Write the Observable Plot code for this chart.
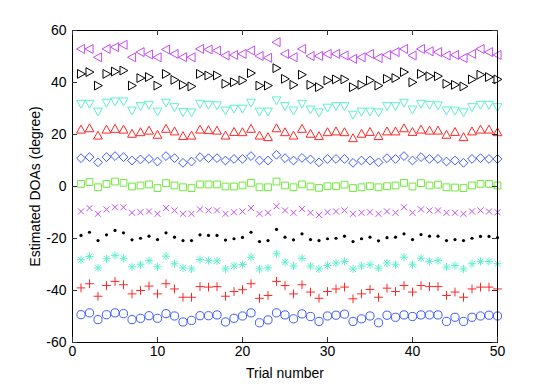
<!DOCTYPE html>
<html>
<head>
<meta charset="utf-8">
<script src="https://cdn.jsdelivr.net/npm/d3@7"></script>
<script src="https://cdn.jsdelivr.net/npm/@observablehq/plot@0.6"></script>
<style>
  html, body { margin: 0; padding: 0; background: #fff; }
  #chart { width: 548px; height: 386px; }
</style>
</head>
<body>
<div id="chart"></div>
<script>
// ---- data ----
const trials = d3.range(1, 51);
const xTicks = [0, 10, 20, 30, 40, 50];
const yTicks = [-60, -40, -20, 0, 20, 40, 60];

const doa50  = [52.9,52.9,49.7,52.9,53.6,54.5,49.7,51.7,50.8,49.7,52.7,51.0,49.7,49.7,52.9,52.7,52.3,50.4,50.6,51.0,52.3,50.2,49.5,55.5,51.0,49.7,52.9,50.2,50.2,51.0,51.0,50.4,49.1,49.7,51.0,49.4,50.6,51.7,52.9,50.4,52.9,52.0,51.7,50.4,50.6,49.4,51.0,52.9,51.7,50.6];
const doa40  = [43.3,44.0,38.8,43.3,44.2,44.6,38.8,41.7,42.1,38.8,43.3,41.0,39.1,38.5,43.3,42.7,42.7,39.5,40.1,40.8,43.6,38.8,38.8,45.5,41.4,39.1,43.0,39.1,38.2,40.8,41.2,41.2,38.2,39.1,40.8,38.8,41.4,41.7,44.0,40.1,43.3,42.4,42.4,39.5,39.1,38.5,41.2,43.0,42.1,41.2];
const doa30  = [31.8,31.8,28.8,32.2,32.7,32.7,29.2,30.9,31.4,28.8,32.2,30.5,28.6,28.5,31.8,31.4,31.2,29.2,29.9,29.9,32.2,28.8,28.8,33.1,30.9,29.2,31.8,29.6,28.5,30.3,30.9,30.9,27.6,28.8,28.8,28.5,30.9,30.9,32.2,29.6,31.8,31.4,31.2,29.2,29.2,28.5,30.5,31.4,31.4,30.5];
const doa20  = [21.9,22.4,19.6,21.9,22.2,21.9,20.3,20.9,21.5,19.9,22.2,21.2,19.4,19.6,21.9,21.7,21.5,19.6,21.0,20.9,22.2,19.6,19.0,22.4,20.9,19.6,22.2,20.3,19.4,20.9,21.2,20.9,18.6,20.3,21.0,19.4,21.2,21.2,22.4,21.0,21.9,21.5,21.5,19.9,21.0,19.0,21.2,21.9,21.9,20.9];
const doa10  = [10.9,11.3,9.3,11.3,11.7,11.3,10.0,10.4,10.6,9.6,11.7,10.9,9.1,9.6,11.3,10.9,10.9,10.0,10.6,10.6,11.7,10.0,10.0,12.2,10.9,10.0,11.0,10.4,9.3,10.6,10.6,10.6,9.1,10.0,10.0,9.3,10.9,10.6,11.7,10.0,11.3,10.6,10.6,9.6,10.0,9.1,10.6,10.9,10.6,10.6];
const doa0   = [1.0,1.7,-0.3,1.0,1.9,1.4,0.0,0.4,0.8,-0.6,1.3,0.4,-0.3,-0.6,0.8,0.8,0.8,0.0,0.0,0.4,1.4,-0.3,-0.3,1.9,0.4,-0.3,0.8,0.0,-0.5,0.1,0.1,0.7,-0.6,-0.3,0.1,-0.3,0.1,0.4,1.4,0.0,1.3,0.4,0.7,-0.3,-0.4,-0.6,0.4,1.0,1.0,0.4];
const doaM10 = [-9.6,-8.3,-10.5,-8.8,-8.0,-8.0,-10.1,-9.9,-9.6,-10.5,-8.3,-9.2,-10.5,-10.5,-8.8,-9.2,-9.2,-10.5,-9.9,-9.6,-8.3,-10.5,-10.1,-7.6,-9.2,-10.1,-8.6,-10.1,-10.9,-9.9,-9.6,-9.2,-10.5,-10.1,-9.9,-10.5,-9.6,-10.1,-8.0,-10.1,-8.8,-9.2,-9.2,-10.1,-10.1,-10.5,-9.6,-9.2,-9.6,-9.9];
const doaM20 = [-18.8,-17.6,-20.8,-18.6,-16.9,-17.8,-20.5,-19.9,-19.1,-20.4,-17.8,-19.5,-20.8,-20.8,-18.6,-18.8,-18.8,-20.6,-20.1,-19.6,-17.6,-21.2,-20.8,-16.5,-19.5,-20.5,-18.2,-20.4,-20.8,-20.1,-19.9,-19.1,-21.2,-20.1,-19.5,-20.9,-19.7,-19.5,-18.2,-20.4,-18.5,-19.1,-19.1,-20.8,-20.4,-20.8,-19.9,-19.2,-19.2,-19.7];
const doaM30 = [-28.2,-26.9,-31.3,-27.8,-26.5,-27.6,-30.9,-30.1,-28.5,-30.9,-26.8,-29.7,-31.3,-31.7,-28.1,-28.5,-28.6,-31.7,-30.6,-30.0,-27.2,-31.7,-31.3,-25.9,-29.1,-30.6,-27.6,-30.6,-31.7,-30.4,-29.4,-28.8,-31.7,-30.6,-30.1,-31.4,-29.4,-30.1,-27.2,-30.1,-27.6,-28.8,-28.5,-31.0,-30.4,-31.7,-29.7,-28.8,-28.8,-29.7];
const doaM40 = [-39.0,-37.4,-42.2,-38.1,-36.5,-37.8,-41.3,-40.0,-38.3,-41.3,-37.4,-39.4,-42.6,-42.6,-38.5,-38.7,-38.5,-42.2,-40.4,-39.7,-37.4,-43.0,-41.9,-36.5,-38.1,-41.3,-37.8,-40.6,-43.0,-40.4,-39.4,-38.7,-43.2,-41.3,-39.6,-42.6,-39.1,-40.4,-38.1,-40.6,-38.1,-38.5,-38.5,-41.9,-40.6,-42.6,-39.4,-38.7,-38.7,-39.4];
const doaM50 = [-49.3,-48.6,-51.2,-49.3,-48.6,-48.9,-51.2,-50.7,-49.7,-50.7,-48.9,-49.8,-52.1,-51.5,-49.7,-49.7,-49.4,-52.1,-50.7,-49.8,-48.6,-52.4,-51.3,-48.6,-49.4,-50.9,-49.0,-50.0,-51.9,-49.8,-49.5,-49.1,-51.9,-50.9,-49.8,-52.4,-49.5,-50.3,-49.4,-50.0,-49.4,-49.4,-49.4,-51.9,-50.3,-51.9,-50.3,-49.8,-49.5,-49.8];

// ---- marker shapes (MATLAB-like) ----
const mk = (fn) => ({draw(ctx, size) { fn(ctx, Math.sqrt(size / Math.PI)); }});
const symbols = {
  circle: mk((c, r) => { c.moveTo(r, 0); c.arc(0, 0, r, 0, 2 * Math.PI); }),
  plus:   mk((c, r) => { c.moveTo(-r, 0); c.lineTo(r, 0); c.moveTo(0, -r); c.lineTo(0, r); }),
  times:  mk((c, r) => { const a = r * 0.72; c.moveTo(-a, -a); c.lineTo(a, a); c.moveTo(-a, a); c.lineTo(a, -a); }),
  star:   mk((c, r) => { const a = r * 0.72; c.moveTo(-r, 0); c.lineTo(r, 0); c.moveTo(0, -r); c.lineTo(0, r);
                         c.moveTo(-a, -a); c.lineTo(a, a); c.moveTo(-a, a); c.lineTo(a, -a); }),
  dot:    mk((c, r) => { c.moveTo(r, 0); c.arc(0, 0, r, 0, 2 * Math.PI); }),
  square: mk((c, r) => { c.rect(-r, -r, 2 * r, 2 * r); }),
  diamond:mk((c, r) => { c.moveTo(0, -r); c.lineTo(r, 0); c.lineTo(0, r); c.lineTo(-r, 0); c.closePath(); }),
  up:     mk((c, r) => { c.moveTo(0, -r); c.lineTo(r, r * 0.8); c.lineTo(-r, r * 0.8); c.closePath(); }),
  down:   mk((c, r) => { c.moveTo(0, r); c.lineTo(r, -r * 0.8); c.lineTo(-r, -r * 0.8); c.closePath(); }),
  right:  mk((c, r) => { c.moveTo(r, 0); c.lineTo(-r * 0.8, -r); c.lineTo(-r * 0.8, r); c.closePath(); }),
  left:   mk((c, r) => { c.moveTo(-r, 0); c.lineTo(r * 0.8, -r); c.lineTo(r * 0.8, r); c.closePath(); })
};

const purple = "#c64cf2", cyan = "#5ef0cf", red = "#ff2626", blue = "#3d5cff", green = "#6fe83c";
const series = [
  {values: doa50,  symbol: "left",    color: purple, r: 4.5},
  {values: doa40,  symbol: "right",   color: "#000", r: 4.4},
  {values: doa30,  symbol: "down",    color: cyan,   r: 4.4},
  {values: doa20,  symbol: "up",      color: red,    r: 4.4},
  {values: doa10,  symbol: "diamond", color: blue,   r: 4.4},
  {values: doa0,   symbol: "square",  color: green,  r: 3.4},
  {values: doaM10, symbol: "times",   color: purple, r: 4.2},
  {values: doaM20, symbol: "dot",     color: "#000", r: 1.6, filled: true},
  {values: doaM30, symbol: "star",    color: cyan,   r: 4.1},
  {values: doaM40, symbol: "plus",    color: red,    r: 4.4},
  {values: doaM50, symbol: "circle",  color: blue,   r: 4.1}
];

const W = 548, H = 386, mL = 72, mR = 51, mT = 30, mB = 44;
const innerW = W - mL - mR, innerH = H - mT - mB, tk = 5;
const font = "'Liberation Sans', Arial, Helvetica, sans-serif";

const marks = [];
for (const s of series) {
  const rows = trials.map((t, i) => ({trial: t, doa: s.values[i]}));
  marks.push(Plot.dot(rows, {
    x: "trial", y: "doa",
    symbol: symbols[s.symbol], r: s.r,
    stroke: s.filled ? "none" : s.color,
    fill: s.filled ? s.color : "none",
    strokeWidth: 1
  }));
}

marks.push(
  Plot.frame({stroke: "#000", strokeWidth: 1}),
  Plot.tickX(xTicks, {x: d => d, insetTop: innerH - tk, stroke: "#333"}),
  Plot.tickX(xTicks, {x: d => d, insetBottom: innerH - tk, stroke: "#333"}),
  Plot.tickY(yTicks, {y: d => d, insetRight: innerW - tk, stroke: "#333"}),
  Plot.tickY(yTicks, {y: d => d, insetLeft: innerW - tk, stroke: "#333"}),
  Plot.axisX({ticks: xTicks, tickSize: 0, tickPadding: 4, tickFormat: d => String(d), fontSize: 14,
              label: "Trial number", labelAnchor: "center", labelOffset: 35, labelArrow: "none"}),
  Plot.axisY({ticks: yTicks, tickSize: 0, tickPadding: 6, tickFormat: d => String(d), fontSize: 14,
              label: "Estimated DOAs (degree)", labelAnchor: "center", labelOffset: 42, labelArrow: "none"})
);

const chart = Plot.plot({
  width: W, height: H,
  marginLeft: mL, marginRight: mR, marginTop: mT, marginBottom: mB,
  x: {domain: [0, 50]},
  y: {domain: [-60, 60]},
  style: {fontFamily: font, fontSize: "14px", color: "#000", background: "#fff", overflow: "visible"},
  marks
});
document.getElementById("chart").appendChild(chart);
</script>
</body>
</html>
